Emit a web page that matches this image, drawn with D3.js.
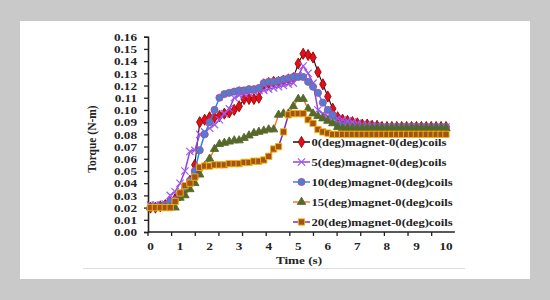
<!DOCTYPE html>
<html>
<head>
<meta charset="utf-8">
<script src="https://cdn.jsdelivr.net/npm/d3@7"></script>
<style>
  body { margin: 0; background: #c9c9c9; }
  svg { display: block; }
  text { font-family: "Liberation Serif", "Times New Roman", serif; font-weight: bold; fill: #222; }
</style>
</head>
<body>
<div class="chart"></div>
<script>
// data, one value every 1/6 s from 0 to 10 s
const timeLabels = [0, 1, 2, 3, 4, 5, 6, 7, 8, 9, 10];
const torqueTicks = [0, 0.01, 0.02, 0.03, 0.04, 0.05, 0.06, 0.07, 0.08, 0.09, 0.10, 0.11, 0.12, 0.13, 0.14, 0.15, 0.16];
const stepsPerSecond = 6;

const deg0 = [0.020,0.020,0.021,0.022,0.024,0.027,0.030,0.035,0.042,0.055,
  0.090,0.092,0.094,0.094,0.095,0.097,0.098,0.100,0.103,0.109,
  0.109,0.109,0.110,0.121,0.122,0.123,0.123,0.124,0.125,0.126,
  0.138,0.146,0.145,0.143,0.131,0.121,0.111,0.101,0.094,0.092,
  0.091,0.090,0.089,0.088,0.088,0.087,0.087,0.086,0.086,0.086,
  0.086,0.086,0.086,0.086,0.086,0.086,0.086,0.086,0.086,0.086,0.086];

const deg5 = [0.022,0.022,0.022,0.023,0.030,0.033,0.040,0.050,0.066,0.067,
  0.080,0.082,0.085,0.088,0.092,0.097,0.101,0.110,0.112,0.113,
  0.114,0.115,0.116,0.116,0.117,0.118,0.119,0.120,0.121,0.122,
  0.128,0.136,0.130,0.122,0.100,0.097,0.095,0.094,0.093,0.092,
  0.091,0.090,0.089,0.088,0.088,0.087,0.087,0.086,0.086,0.086,
  0.086,0.086,0.086,0.086,0.086,0.086,0.086,0.086,0.086,0.086,0.086];

const deg10 = [0.020,0.020,0.021,0.022,0.025,0.026,0.031,0.036,0.042,0.050,
  0.067,0.080,0.090,0.100,0.110,0.113,0.114,0.115,0.116,0.116,
  0.117,0.117,0.118,0.122,0.123,0.123,0.124,0.125,0.126,0.127,
  0.127,0.127,0.123,0.119,0.114,0.106,0.100,0.096,0.088,0.087,
  0.087,0.086,0.086,0.086,0.086,0.086,0.086,0.086,0.086,0.086,
  0.086,0.086,0.086,0.086,0.086,0.086,0.086,0.086,0.086,0.086,0.086];

const deg15 = [0.020,0.020,0.020,0.020,0.020,0.020,0.028,0.030,0.035,0.040,
  0.047,0.054,0.060,0.068,0.072,0.073,0.074,0.075,0.075,0.077,
  0.079,0.081,0.082,0.083,0.084,0.084,0.096,0.097,0.097,0.103,
  0.109,0.109,0.101,0.097,0.095,0.093,0.091,0.089,0.086,0.085,
  0.085,0.085,0.085,0.085,0.085,0.085,0.085,0.085,0.085,0.085,
  0.085,0.085,0.085,0.085,0.085,0.085,0.085,0.085,0.085,0.085,0.085];

const deg20 = [0.020,0.020,0.020,0.020,0.020,0.025,0.032,0.038,0.040,0.045,
  0.053,0.054,0.054,0.055,0.055,0.055,0.056,0.056,0.056,0.057,
  0.057,0.058,0.058,0.059,0.062,0.068,0.070,0.082,0.096,0.097,
  0.097,0.097,0.092,0.089,0.084,0.082,0.081,0.080,0.080,0.080,
  0.080,0.080,0.080,0.080,0.080,0.080,0.080,0.080,0.080,0.080,
  0.080,0.080,0.080,0.080,0.080,0.080,0.080,0.080,0.080,0.080,0.080];

const seriesNames = ["0(deg)magnet-0(deg)coils", "5(deg)magnet-0(deg)coils",
  "10(deg)magnet-0(deg)coils", "15(deg)magnet-0(deg)coils", "20(deg)magnet-0(deg)coils"];

// styling for each series
const series = [
  { name: seriesNames[0], values: deg0, line: "#111", symbol: d3.symbolDiamond, size: 36, fill: "#e0101a", stroke: "#9a0000" },
  { name: seriesNames[1], values: deg5, line: "#9b3fe0", symbol: d3.symbolTimes, size: 36, fill: "none", stroke: "#9a5cf0" },
  { name: seriesNames[2], values: deg10, line: "#1f8fee", symbol: d3.symbolCircle, size: 40, fill: "#4d7ecf", stroke: "#b04aa0" },
  { name: seriesNames[3], values: deg15, line: "#f07d2a", symbol: d3.symbolTriangle, size: 30, fill: "#56692b", stroke: "#56692b" },
  { name: seriesNames[4], values: deg20, line: "#7a2fb0", symbol: d3.symbolSquare, size: 40, fill: "#a4521c", stroke: "#f5b900" }
];

const width = 550;
const height = 300;
const stretch = 1.2; // the picture's text is a little wide

const svg = d3.select(".chart")
  .append("svg")
  .attr("width", width)
  .attr("height", height);

// white card and the thin rule under the chart
svg.append("rect")
  .attr("x", 20).attr("y", 21)
  .attr("width", 510).attr("height", 258)
  .attr("fill", "#fff");

svg.append("line")
  .attr("x1", 83).attr("x2", 465)
  .attr("y1", 268.5).attr("y2", 268.5)
  .attr("stroke", "#dedede");

const xScale = d3.scaleLinear().domain([0, 10]).range([150.5, 446]);
const yScale = d3.scaleLinear().domain([0, 0.16]).range([232, 36.7]);

// y axis
const yAxis = d3.axisLeft(yScale)
  .tickValues(torqueTicks)
  .tickSize(4)
  .tickFormat(d3.format(".2f"));

const gy = svg.append("g")
  .attr("transform", "translate(148,0)")
  .call(yAxis);
gy.select(".domain").attr("stroke", "#222").attr("stroke-width", 1.6);
gy.selectAll(".tick line").attr("stroke", "#222").attr("stroke-width", 1.3);
gy.selectAll(".tick text")
  .attr("x", -11 / stretch)
  .attr("dy", "0.34em")
  .attr("transform", `scale(${stretch},1)`)
  .style("font-size", "11px")
  .style("font-family", "Liberation Serif, serif");

// x axis: tick marks every 0.8 s, labels on whole seconds
const xEnd = 10.3;
const xStart = -0.085;
svg.append("line")
  .attr("x1", xScale(xStart)).attr("x2", xScale(xEnd))
  .attr("y1", 232).attr("y2", 232)
  .attr("stroke", "#222").attr("stroke-width", 1.6);

svg.append("g")
  .selectAll("line")
  .data(d3.range(xStart, xEnd + 0.01, 0.8))
  .enter()
  .append("line")
  .attr("x1", d => xScale(d)).attr("x2", d => xScale(d))
  .attr("y1", 232).attr("y2", 236)
  .attr("stroke", "#222").attr("stroke-width", 1.3);

svg.append("g")
  .selectAll("text")
  .data(timeLabels)
  .enter()
  .append("text")
  .attr("transform", d => `translate(${xScale(d)},250) scale(${stretch},1)`)
  .attr("text-anchor", "middle")
  .style("font-size", "11px")
  .text(d => d);

// axis titles
svg.append("text")
  .attr("transform", `translate(299,264) scale(${stretch},1)`)
  .attr("text-anchor", "middle")
  .style("font-size", "11px")
  .text("Time (s)");

svg.append("text")
  .attr("transform", "translate(96,139) rotate(-90)")
  .attr("text-anchor", "middle")
  .style("font-size", "11.5px")
  .text("Torque (N-m)");

// lines and markers
const line = d3.line()
  .x((d, i) => xScale(i / stepsPerSecond))
  .y(d => yScale(d));

series.forEach(s => {
  const g = svg.append("g");
  g.append("path")
    .datum(s.values)
    .attr("d", line)
    .attr("fill", "none")
    .attr("stroke", s.line)
    .attr("stroke-width", s.line === "#111" ? 1.1 : 1.5);

  g.selectAll("path.mark")
    .data(s.values)
    .enter()
    .append("path")
    .attr("class", "mark")
    .attr("transform", (d, i) => `translate(${xScale(i / stepsPerSecond)},${yScale(d)})`)
    .attr("d", d3.symbol().type(s.symbol).size(s.size))
    .attr("fill", s.fill)
    .attr("stroke", s.stroke)
    .attr("stroke-width", s.symbol === d3.symbolTimes ? 1.2 : 0.9);
});

// legend
const legend = svg.append("g")
  .selectAll("g")
  .data(series)
  .enter()
  .append("g")
  .attr("transform", (d, i) => `translate(0,${142 + i * 20})`);

legend.append("line")
  .attr("x1", 293).attr("x2", 310)
  .attr("stroke", d => d.line)
  .attr("stroke-width", 1.5);

legend.append("path")
  .attr("transform", "translate(301.5,0)")
  .attr("d", d => d3.symbol().type(d.symbol).size(d.size)())
  .attr("fill", d => d.fill)
  .attr("stroke", d => d.stroke)
  .attr("stroke-width", d => d.symbol === d3.symbolTimes ? 1.2 : 0.9);

legend.append("text")
  .attr("transform", `translate(311.5,3.8) scale(${stretch},1)`)
  .style("font-size", "10.5px")
  .text(d => d.name);
</script>
</body>
</html>
